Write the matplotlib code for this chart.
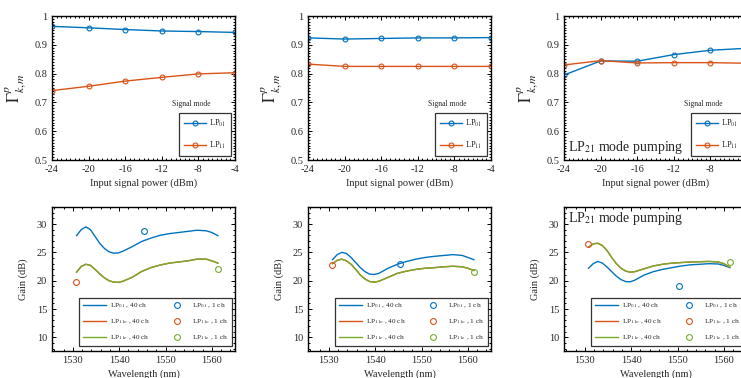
import matplotlib
matplotlib.use('Agg')
import matplotlib.pyplot as plt
from matplotlib.ticker import MultipleLocator, FormatStrFormatter

plt.rcParams['font.family'] = ['Liberation Serif', 'DejaVu Serif']
plt.rcParams['mathtext.fontset'] = 'stix'
plt.rcParams['axes.unicode_minus'] = False

# ---- top row: overlap factor vs input signal power ----
power = [-24, -20, -16, -12, -8, -4]
gam01_a = [0.964, 0.959, 0.953, 0.948, 0.946, 0.943]
gam11_a = [0.741, 0.756, 0.774, 0.787, 0.799, 0.803]
gam01_b = [0.924, 0.920, 0.922, 0.924, 0.924, 0.925]
gam11_b = [0.833, 0.825, 0.825, 0.825, 0.825, 0.825]
gam01_c = [0.795, 0.844, 0.843, 0.866, 0.881, 0.888]
gam11_c = [0.830, 0.845, 0.837, 0.838, 0.838, 0.836]

# ---- bottom row: gain spectra (40 ch) ----
wl = [1530.8, 1531.8, 1532.8, 1533.8, 1534.8, 1535.8, 1536.8, 1537.8, 1538.8,
      1539.8, 1540.8, 1542.8, 1544.8, 1546.8, 1548.8, 1550.8, 1552.8, 1554.8,
      1556.8, 1558.8, 1560.0, 1561.3]
g01_a = [27.95, 29.0, 29.5, 29.0, 27.8, 26.6, 25.7, 25.1, 24.85, 24.9, 25.2,
         26.0, 26.9, 27.5, 28.0, 28.3, 28.5, 28.7, 28.9, 28.8, 28.5, 27.95]
g11_a = [21.5, 22.5, 22.9, 22.7, 22.0, 21.2, 20.5, 20.0, 19.75, 19.7, 19.9,
         20.6, 21.6, 22.3, 22.75, 23.1, 23.3, 23.5, 23.8, 23.8, 23.5, 23.1]
g01_b = [23.7, 24.6, 25.0, 24.8, 24.1, 23.2, 22.3, 21.6, 21.15, 21.1, 21.3,
         22.2, 22.9, 23.4, 23.8, 24.1, 24.3, 24.45, 24.6, 24.45, 24.1, 23.7]
g11_b = [23.0, 23.6, 23.8, 23.5, 22.9, 22.0, 21.0, 20.3, 19.85, 19.75, 19.9,
         20.6, 21.3, 21.7, 22.0, 22.2, 22.3, 22.45, 22.55, 22.45, 22.2, 21.8]
g01_c = [22.2, 23.0, 23.4, 23.1, 22.4, 21.6, 20.8, 20.2, 19.85, 19.8, 20.1,
         21.0, 21.6, 22.0, 22.3, 22.6, 22.8, 22.9, 23.0, 22.95, 22.7, 22.3]
g11_c = [25.9, 26.5, 26.6, 26.2, 25.3, 24.1, 23.0, 22.2, 21.7, 21.5, 21.6,
         22.1, 22.6, 22.9, 23.1, 23.2, 23.3, 23.35, 23.4, 23.3, 23.0, 22.4]

# single channel points (wavelength, gain) for LP01, LP11o, LP11e
single_wl_a = [1545.4, 1530.6, 1561.3]
single_g_a = [28.8, 19.75, 22.0]
single_wl_b = [1545.4, 1530.6, 1561.3]
single_g_b = [23.0, 22.7, 21.6]
single_wl_c = [1550.4, 1530.6, 1561.3]
single_g_c = [19.0, 26.5, 23.3]

blue = '#0072BD'
orange = '#D95319'
green = '#77AC30'
txt = '#262626'

fig = plt.figure(figsize=(7.41, 3.78), dpi=100)

lefts = [52 / 741, 308 / 741, 564 / 741]
w = 183 / 741
h = 144 / 378
top_b = (378 - 160) / 378
bot_b = (378 - 351) / 378


def style(ax):
    ax.tick_params(which='both', direction='in', top=True, right=True,
                   colors='black', labelcolor=txt, labelsize=7.5, width=0.7)
    ax.tick_params(which='major', length=3)
    ax.tick_params(which='minor', length=1.6)
    for s in ax.spines.values():
        s.set_linewidth(1.0)


top_data = [(gam01_a, gam11_a), (gam01_b, gam11_b), (gam01_c, gam11_c)]
for i, (g01, g11) in enumerate(top_data):
    ax = fig.add_axes([lefts[i], top_b, w, h])
    ax.plot(power, g01, '-o', color=blue, lw=1.0, ms=3.5, mfc='none', mew=0.8,
            label='LP$_{01}$')
    ax.plot(power, g11, '-o', color=orange, lw=1.0, ms=3.5, mfc='none', mew=0.8,
            label='LP$_{11}$')
    ax.set_xlim(-24, -4)
    ax.set_ylim(0.5, 1)
    ax.set_xticks(power)
    ax.xaxis.set_minor_locator(MultipleLocator(0.5))
    ax.yaxis.set_major_locator(MultipleLocator(0.1))
    ax.yaxis.set_minor_locator(MultipleLocator(0.01))
    ax.yaxis.set_major_formatter(FormatStrFormatter('%g'))
    style(ax)
    ax.set_xlabel('Input signal power (dBm)', fontsize=7.5, color=txt, labelpad=3)
    ax.set_ylabel(r'$\Gamma^{p}_{k,m}$', fontsize=12, color=txt, labelpad=4)
    ax.text(0.76, 0.39, 'Signal mode', transform=ax.transAxes, fontsize=5.5,
            color=txt, ha='center', va='center')
    leg = ax.legend(loc='lower left', bbox_to_anchor=(0.695, 0.03), fontsize=6,
                    frameon=True, fancybox=False, edgecolor='black',
                    handlelength=2.6, borderpad=0.6, labelspacing=1.2,
                    handletextpad=0.4, borderaxespad=0)
    leg.get_frame().set_linewidth(0.9)
    for t in leg.get_texts():
        t.set_color(txt)
    if i == 2:
        ax.text(0.02, 0.03, 'LP$_{21}$ mode pumping', transform=ax.transAxes,
                fontsize=10, color=txt, ha='left', va='bottom')

bot_data = [(g01_a, g11_a, single_wl_a, single_g_a),
            (g01_b, g11_b, single_wl_b, single_g_b),
            (g01_c, g11_c, single_wl_c, single_g_c)]
for i, (g01, g11, swl, sg) in enumerate(bot_data):
    ax = fig.add_axes([lefts[i], bot_b, w, h])
    l1, = ax.plot(wl, g01, color=blue, lw=1.0)
    l2, = ax.plot(wl, g11, color=orange, lw=1.0)
    l3, = ax.plot(wl, g11, color=green, lw=1.0)
    c1, = ax.plot(swl[0], sg[0], 'o', color=blue, mfc='none', ms=4.2, mew=0.8)
    c2, = ax.plot(swl[1], sg[1], 'o', color=orange, mfc='none', ms=4.2, mew=0.8)
    c3, = ax.plot(swl[2], sg[2], 'o', color=green, mfc='none', ms=4.2, mew=0.8)
    ax.set_xlim(1525.5, 1565)
    ax.set_ylim(7.6, 33)
    ax.set_xticks([1530, 1540, 1550, 1560])
    ax.xaxis.set_minor_locator(MultipleLocator(2))
    ax.set_yticks([10, 15, 20, 25, 30])
    ax.yaxis.set_minor_locator(MultipleLocator(1))
    style(ax)
    ax.set_xlabel('Wavelength (nm)', fontsize=7.5, color=txt, labelpad=3)
    ax.set_ylabel('Gain (dB)', fontsize=7.5, color=txt, labelpad=6)
    labels = ['LP$_{01}$ , 40 ch', 'LP$_{11o}$ , 40 ch', 'LP$_{11e}$ , 40 ch',
              'LP$_{01}$ , 1 ch', 'LP$_{11o}$ , 1 ch', 'LP$_{11e}$ , 1 ch']
    leg = ax.legend([l1, l2, l3, c1, c2, c3], labels, ncol=2, loc='lower left',
                    bbox_to_anchor=(0.15, 0.035), fontsize=5.2, frameon=True,
                    fancybox=False, edgecolor='black', handlelength=3.2,
                    borderpad=0.5, labelspacing=1.0, columnspacing=2.2,
                    handletextpad=0.5, borderaxespad=0)
    leg.get_frame().set_linewidth(0.9)
    for t in leg.get_texts():
        t.set_color(txt)
    if i == 2:
        ax.text(0.02, 0.98, 'LP$_{21}$ mode pumping', transform=ax.transAxes,
                fontsize=10, color=txt, ha='left', va='top')

fig.savefig('out.png', dpi=100)
